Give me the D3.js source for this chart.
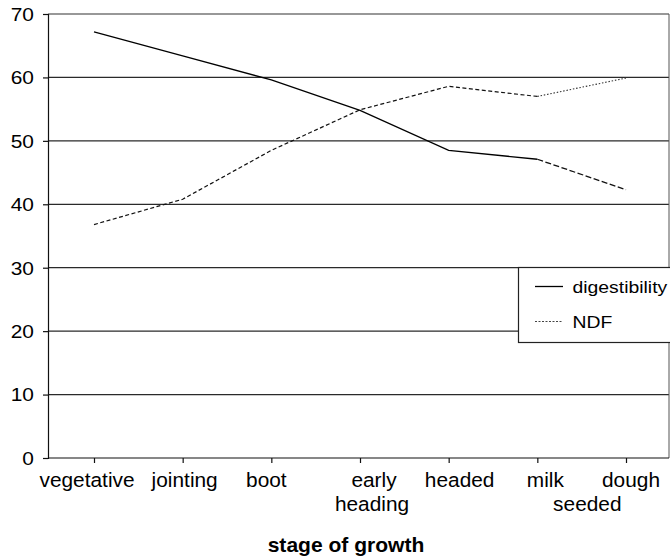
<!DOCTYPE html>
<html>
<head>
<meta charset="utf-8">
<script src="https://cdn.jsdelivr.net/npm/d3@7/dist/d3.min.js"></script>
<style>
  html, body { margin: 0; padding: 0; background: #fff; }
  svg { display: block; }
  text { font-family: "Liberation Sans", Arial, Helvetica, sans-serif; fill: #000; }
</style>
</head>
<body>
<svg id="chart" width="670" height="559"></svg>
<script>
// ---- data ----
const categories = ["vegetative", "jointing", "boot", "early heading", "headed", "milk seeded", "dough"];
const digestibility = [67.2, 63.4, 59.6, 54.8, 48.5, 47.1, 42.3];
const ndf = [36.8, 40.8, 48.5, 54.9, 58.6, 57.0, 59.9];
const seriesNames = ["digestibility", "NDF"];
const yTicks = [0, 10, 20, 30, 40, 50, 60, 70];
const xTitle = "stage of growth";

// ---- layout ----
const svg = d3.select("#chart");
const plot = { left: 48, right: 669, top: 14, bottom: 458 };

const x = d3.scalePoint().domain(categories).range([94, 626]);
const y = d3.scaleLinear().domain([0, 70]).range([plot.bottom, plot.top]);

function addText(parent, px, py, str, opts) {
  const o = Object.assign({ size: 19, sx: 1.1, anchor: "middle", weight: "normal" }, opts || {});
  const g = parent.append("g").attr("transform", `translate(${px},${py})`);
  g.append("text")
    .attr("transform", `scale(${o.sx},1)`)
    .attr("text-anchor", o.anchor)
    .attr("font-size", o.size)
    .attr("font-weight", o.weight)
    .text(str);
  return g;
}

// gridlines
svg.append("g").selectAll("line")
  .data(yTicks.filter(v => v > 0 && v < 70))
  .join("line")
  .attr("x1", plot.left).attr("x2", plot.right)
  .attr("y1", d => y(d)).attr("y2", d => y(d))
  .attr("stroke", "#2a2a2a").attr("stroke-width", 1.2);

// plot border (top & right)
svg.append("line").attr("x1", plot.left).attr("x2", plot.right)
  .attr("y1", y(70)).attr("y2", y(70)).attr("stroke", "#333").attr("stroke-width", 1.2);
svg.append("line").attr("x1", plot.right).attr("x2", plot.right)
  .attr("y1", y(70)).attr("y2", y(0)).attr("stroke", "#555").attr("stroke-width", 1);

// y axis
const yAxis = d3.axisLeft(y).tickValues(yTicks).tickSize(5).tickFormat("");
const yg = svg.append("g").attr("transform", `translate(${plot.left},0)`).call(yAxis);
yg.select(".domain").attr("stroke", "#111").attr("stroke-width", 1.2);
yg.selectAll(".tick line").attr("stroke", "#111").attr("stroke-width", 1.2);
yTicks.forEach(v => addText(svg, 34, y(v) + 6.8, String(v), { anchor: "end", size: 19, sx: 1.1 }));

// x axis
const xAxis = d3.axisBottom(x).tickSize(5).tickFormat("").tickSizeOuter(0);
const xg = svg.append("g").attr("transform", `translate(0,${plot.bottom})`).call(xAxis);
xg.select(".domain").attr("d", `M${plot.left},0H${plot.right}`).attr("stroke", "#111").attr("stroke-width", 1.2);
xg.selectAll(".tick line").attr("stroke", "#111").attr("stroke-width", 1.2);

// category labels (line offsets relative to tick, as laid out in the original)
const labelOffsets = [[-7], [2], [-5], [14, 12], [11], [8, 50], [5]];
categories.forEach((c, i) => {
  const words = c.split(" ");
  words.forEach((w, j) => {
    const dx = labelOffsets[i][j] !== undefined ? labelOffsets[i][j] : 0;
    addText(svg, x(c) + dx, 486.5 + j * 24.5, w, { size: 19.5, sx: 1.07 });
  });
});

// axis title
addText(svg, 346, 552, xTitle, { size: 19.5, sx: 1.08, weight: "bold" });

// ---- lines ----
const pts = vals => categories.map((c, i) => [x(c), y(vals[i])]);
const line = d3.line();
const dPts = pts(digestibility);
const nPts = pts(ndf);

svg.append("path").attr("d", line(dPts.slice(0, 6)))
  .attr("fill", "none").attr("stroke", "#000").attr("stroke-width", 1.3);
svg.append("path").attr("d", line(dPts.slice(5)))
  .attr("fill", "none").attr("stroke", "#111").attr("stroke-width", 1.3)
  .attr("stroke-dasharray", "6,2.5");

svg.append("path").attr("d", line(nPts.slice(0, 6)))
  .attr("fill", "none").attr("stroke", "#111").attr("stroke-width", 1.2)
  .attr("stroke-dasharray", "4,2.5");
svg.append("path").attr("d", line(nPts.slice(5)))
  .attr("fill", "none").attr("stroke", "#333").attr("stroke-width", 1.1)
  .attr("stroke-dasharray", "1.5,1.8");

// ---- legend ----
const lg = svg.append("g");
lg.append("rect").attr("x", 518.5).attr("y", 267.5).attr("width", 160).attr("height", 75)
  .attr("fill", "#fff").attr("stroke", "#222").attr("stroke-width", 1.2);
const legendStyles = [
  { dash: null, width: 1.3, color: "#000" },
  { dash: "2,1.5", width: 1, color: "#444" }
];
seriesNames.forEach((name, i) => {
  const yy = 286.5 + i * 35;
  const s = legendStyles[i];
  const l = lg.append("line").attr("x1", 535).attr("x2", 563).attr("y1", yy).attr("y2", yy)
    .attr("stroke", s.color).attr("stroke-width", s.width);
  if (s.dash) l.attr("stroke-dasharray", s.dash);
  addText(lg, 572.5, yy + 6.5, name, { anchor: "start", size: 17, sx: 1.14 });
});
</script>
</body>
</html>
